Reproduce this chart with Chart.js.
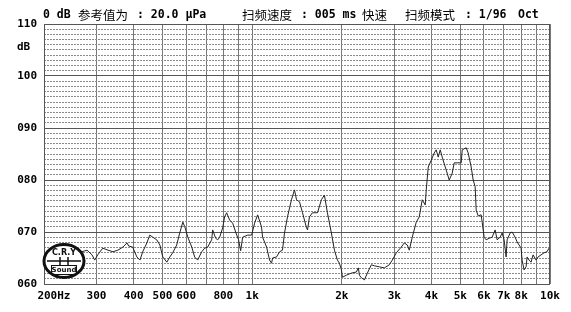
<!DOCTYPE html>
<html lang="zh">
<head>
<meta charset="UTF-8" />
<title>扫频曲线</title>
<script src="https://cdn.jsdelivr.net/npm/chart.js"></script>
<style>
  html, body { margin: 0; padding: 0; background: #fff; }
  #wrap { width: 571px; height: 312px; }
</style>
</head>
<body>
<div id="wrap"><canvas id="sweep" width="571" height="312"></canvas></div>
<script>
  const freqHz = [268,279,290,296,303,315,328,341,354,368,380,385,397,410,420,429,443,453,464,478,
    490,501,517,529,541,558,571,585,594,608,627,641,656,677,693,709,731,737,754,766,
    778,796,808,821,840,860,880,900,915,929,965,996,1019,1043,1075,1084,1118,1144,1162,1171,
    1207,1236,1264,1284,1314,1355,1387,1409,1442,1476,1522,1534,1557,1594,1657,1708,1748,1789,1845,1889,
    1933,1963,1994,2009,2072,2154,2238,2273,2291,2326,2381,2437,2513,2572,2673,2778,2887,2955,3048,3167,
    3242,3318,3369,3448,3556,3639,3724,3811,3841,3901,3992,4086,4149,4214,4280,4346,4483,4588,4695,4768,
    4880,5033,5072,5231,5313,5437,5522,5607,5651,5739,5873,5919,6010,6104,6247,6393,6543,6645,6800,6906,
    7014,7123,7178,7346,7460,7635,7754,7997,8059,8184,8312,8376,8506,8639,8774,8979,9118,9331,9549,9771,9923];
  const levelDb = [66.2,66.5,65.6,64.6,65.6,66.9,66.5,66.2,66.5,67.1,67.9,67.3,67.1,65.2,64.6,66.2,67.9,69.4,69.0,68.5,
    67.5,65.2,64.2,65.2,66.0,67.5,69.8,71.9,71.0,69.0,67.1,65.2,64.6,66.2,66.9,67.1,68.5,70.4,68.8,68.5,
    69.0,70.8,72.9,73.7,72.3,71.7,70.0,68.5,66.4,69.0,69.4,69.4,71.7,73.3,71.0,69.0,67.1,64.6,64.0,65.0,
    65.2,66.2,66.5,69.8,72.9,76.2,78.1,76.2,75.8,73.7,70.8,70.4,72.9,73.7,73.7,76.2,77.1,73.7,69.8,66.5,
    64.6,64.0,62.7,61.3,61.7,62.1,62.3,63.1,61.7,61.2,60.8,62.1,63.7,63.5,63.3,63.1,63.7,64.6,66.0,67.1,
    67.9,67.5,66.5,69.0,71.9,72.9,76.2,75.2,78.1,82.5,83.8,85.2,85.8,84.4,85.8,84.4,81.9,80.0,81.3,83.3,
    83.3,83.3,85.8,86.2,85.2,82.5,80.0,78.7,74.2,73.1,73.3,71.9,69.0,68.5,68.8,69.0,70.4,68.5,69.0,69.8,
    68.5,65.2,68.5,69.8,70.0,69.0,68.1,66.9,64.6,62.7,63.3,65.2,64.6,64.2,65.6,64.6,65.2,65.6,66.0,66.2,66.9];

  const xGridHz = [200,300,400,500,600,700,800,900,1000,2000,3000,4000,5000,6000,7000,8000,9000,10000];
  const xLabelHz = [200,300,400,500,600,800,1000,2000,3000,4000,5000,6000,7000,8000,10000];
  const xLabelText = ['   200Hz','300','400','500','600','800','1k','2k','3k','4k','5k','6k','7k','8k','10k'];
  const yMajorDb = [60,70,80,90,100,110];
  const yLabelText = ['060','070','080','090','100','110'];
  const headerText = ['0 dB','参考值为',': 20.0 μPa','扫频速度',': 005 ms','快速','扫频模式',': 1/96','Oct'];

  const monoFont = '"DejaVu Sans Mono", monospace';

  const decorPlugin = {
    id: 'decor',
    afterDraw(chart) {
      const ctx = chart.ctx;
      const a = chart.chartArea;
      ctx.save();
      // plot frame
      ctx.strokeStyle = '#555';
      ctx.lineWidth = 1;
      ctx.strokeRect(a.left + 0.5, a.top + 0.5, a.right - a.left - 1, a.bottom - a.top);

      // header line
      const headerX = [43, 78, 137, 242, 301, 362, 405, 465, 518];
      ctx.fillStyle = '#000';
      ctx.textBaseline = 'middle';
      ctx.textAlign = 'left';
      headerText.forEach((t, i) => {
        const cjk = /[\u4e00-\u9fff]/.test(t);
        ctx.font = cjk ? '12.5px "Noto Sans CJK SC"' : 'bold 11.5px ' + monoFont;
        ctx.fillText(t, headerX[i], 15);
      });

      // unit label
      ctx.font = 'bold 11px ' + monoFont;
      ctx.fillText('dB', 17, 47);

      // logo
      ctx.beginPath();
      ctx.ellipse(64, 261, 20, 16.5, 0, 0, Math.PI * 2);
      ctx.fillStyle = '#fff';
      ctx.fill();
      ctx.lineWidth = 3;
      ctx.strokeStyle = '#111';
      ctx.stroke();
      ctx.fillStyle = '#111';
      ctx.textAlign = 'center';
      ctx.font = 'bold 8px "DejaVu Sans"';
      ctx.fillText('C.R.Y', 64, 253);
      ctx.lineWidth = 1.5;
      ctx.beginPath();
      ctx.moveTo(47, 261); ctx.lineTo(81, 261);
      ctx.moveTo(60, 257); ctx.lineTo(60, 265);
      ctx.moveTo(68, 257); ctx.lineTo(68, 265);
      ctx.stroke();
      ctx.lineWidth = 1;
      ctx.strokeRect(51.5, 265.5, 25, 9);
      ctx.font = 'bold 7px "DejaVu Sans"';
      ctx.fillText('Sound', 64, 270.5);
      ctx.restore();
    }
  };

  const yGrid = [];
  for (let v = yMajorDb[0]; v <= yMajorDb[yMajorDb.length - 1]; v++) yGrid.push(v);

  new Chart(document.getElementById('sweep').getContext('2d'), {
    type: 'line',
    data: {
      datasets: [{
        data: freqHz.map((f, i) => ({ x: f, y: levelDb[i] })),
        borderColor: '#222',
        borderWidth: 1,
        pointRadius: 0,
        tension: 0,
        fill: false
      }]
    },
    options: {
      responsive: false,
      animation: false,
      layout: { padding: { top: 24, right: 21, left: 0, bottom: 0 } },
      plugins: { legend: { display: false }, tooltip: { enabled: false } },
      scales: {
        x: {
          type: 'logarithmic',
          min: 200,
          max: 10000,
          afterBuildTicks: s => { s.ticks = xGridHz.map(v => ({ value: v })); },
          afterFit: s => { s.height = 28; },
          grid: { color: '#777', lineWidth: 1, drawTicks: false },
          border: { display: false },
          ticks: {
            autoSkip: false,
            maxRotation: 0,
            padding: 6,
            color: '#000',
            font: { family: monoFont, size: 11, weight: 'bold' },
            callback: v => {
              const i = xLabelHz.indexOf(v);
              return i < 0 ? '' : xLabelText[i];
            }
          }
        },
        y: {
          min: 60,
          max: 110,
          afterBuildTicks: s => { s.ticks = yGrid.map(v => ({ value: v })); },
          afterFit: s => { s.width = 44; },
          grid: {
            drawTicks: false,
            color: c => (c.tick && c.tick.value % 10 === 0) ? '#555' : '#8a8a8a',
            lineWidth: 1
          },
          border: {
            display: false,
            dash: c => (c.tick && c.tick.value % 10 !== 0) ? [2, 1] : []
          },
          ticks: {
            autoSkip: false,
            padding: 7,
            color: '#000',
            font: { family: monoFont, size: 11, weight: 'bold' },
            callback: v => {
              const i = yMajorDb.indexOf(v);
              return i < 0 ? '' : yLabelText[i];
            }
          }
        }
      }
    },
    plugins: [decorPlugin]
  });
</script>
</body>
</html>
